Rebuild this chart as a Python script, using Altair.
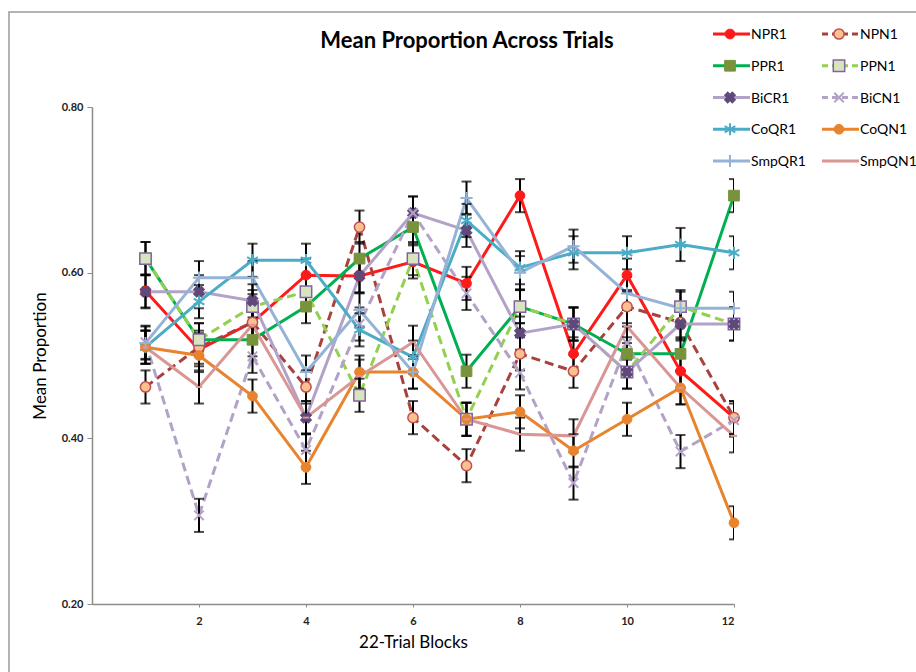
import altair as alt
import pandas as pd

# ---------------- data ----------------
blocks = [1, 2, 3, 4, 5, 6, 7, 8, 9, 10, 11, 12]
series_names = ["NPR1", "NPN1", "PPR1", "PPN1", "BiCR1",
                "BiCN1", "CoQR1", "CoQN1", "SmpQR1", "SmpQN1"]

NPR1 = [0.578, 0.507, 0.540, 0.597, 0.596, 0.613, 0.587, 0.693, 0.502, 0.597, 0.481, 0.425]
NPN1 = [0.462, 0.510, 0.540, 0.462, 0.655, 0.425, 0.367, 0.502, 0.481, 0.559, 0.540, 0.425]
PPR1 = [0.617, 0.519, 0.519, 0.559, 0.617, 0.655, 0.481, 0.559, 0.538, 0.502, 0.502, 0.693]
PPN1 = [0.617, 0.519, 0.559, 0.577, 0.452, 0.617, 0.423, 0.559, 0.538, 0.480, 0.559, 0.538]
BiCR1 = [0.577, 0.577, 0.566, 0.425, 0.596, 0.672, 0.651, 0.527, 0.538, 0.480, 0.538, 0.538]
BiCN1 = [0.516, 0.307, 0.499, 0.386, 0.538, 0.672, 0.575, 0.479, 0.346, 0.515, 0.384, 0.422]
CoQR1 = [0.510, 0.565, 0.615, 0.615, 0.531, 0.498, 0.663, 0.606, 0.624, 0.624, 0.634, 0.624]
CoQN1 = [0.510, 0.500, 0.451, 0.365, 0.480, 0.480, 0.423, 0.432, 0.385, 0.423, 0.461, 0.298]
SmpQR1 = [0.515, 0.594, 0.594, 0.480, 0.555, 0.480, 0.690, 0.600, 0.632, 0.575, 0.557, 0.557]
SmpQN1 = [0.510, 0.462, 0.537, 0.425, 0.475, 0.516, 0.423, 0.405, 0.403, 0.535, 0.461, 0.403]

values = {"NPR1": NPR1, "NPN1": NPN1, "PPR1": PPR1, "PPN1": PPN1, "BiCR1": BiCR1,
          "BiCN1": BiCN1, "CoQR1": CoQR1, "CoQN1": CoQN1, "SmpQR1": SmpQR1, "SmpQN1": SmpQN1}
error = 0.02  # fixed error bar half-length

x_ticks = [2, 4, 6, 8, 10, 12]
y_ticks = [0.2, 0.4, 0.6, 0.8]
title_text = "Mean Proportion Across Trials"

# ---------------- styles ----------------
PLUS = "M-1,0L1,0M0,-1L0,1"
XMARK = "M-1,-1L1,1M-1,1L1,-1"
STAR = "M0,-1L0,1M-0.87,-0.5L0.87,0.5M-0.87,0.5L0.87,-0.5"
DASH = "M-1,0L1,0"

styles = {
    "NPR1":  dict(line="#FF1A1A", dash=[], shape="circle", fill="#FF1A1A", stroke="#FF1A1A", size=95, sw=1, filled=True),
    "NPN1":  dict(line="#A8423F", dash=[9, 5], shape="circle", fill="#FAC090", stroke="#C0504D", size=105, sw=1.5, filled=True),
    "PPR1":  dict(line="#00B050", dash=[], shape="square", fill="#77933C", stroke="#77933C", size=115, sw=1, filled=True),
    "PPN1":  dict(line="#92D050", dash=[9, 5], shape="square", fill="#D7E4BD", stroke="#8064A2", size=130, sw=1.5, filled=True),
    "BiCR1": dict(line="#B3A2C7", dash=[], shape="cross", fill="#5F497A", stroke="#5F497A", size=120, sw=1, filled=True, angle=45),
    "BiCN1": dict(line="#B3A2C7", dash=[9, 5], shape=XMARK, fill="none", stroke="#B3A2C7", size=90, sw=2, filled=False),
    "CoQR1": dict(line="#4BACC6", dash=[], shape=STAR, fill="none", stroke="#4BACC6", size=150, sw=2, filled=False),
    "CoQN1": dict(line="#E8832E", dash=[], shape="circle", fill="#E8832E", stroke="#E8832E", size=95, sw=1, filled=True),
    "SmpQR1": dict(line="#95B3D7", dash=[], shape=PLUS, fill="none", stroke="#95B3D7", size=150, sw=2, filled=False),
    "SmpQN1": dict(line="#D99694", dash=[], shape=DASH, fill="none", stroke="#D99694", size=40, sw=2, filled=False),
}

FONT = "Lato"

# ---------------- tables ----------------
rows = []
for name in series_names:
    for b, v in zip(blocks, values[name]):
        rows.append({"series": name, "block": b, "value": v,
                     "lo": v - error, "hi": v + error})
df = pd.DataFrame(rows)

x_enc = alt.X("block:Q", scale=alt.Scale(domain=[0, 12], nice=False, zero=False),
              axis=alt.Axis(values=x_ticks, title="22-Trial Blocks"))
y_axis = alt.Axis(values=y_ticks, format=".2f", title="Mean Proportion")
y_scale = alt.Scale(domain=[0.2, 0.8], nice=False, zero=False)

base = alt.Chart(df)

line_layers = []
point_layers = []
for name in series_names:
    s = styles[name]
    sub = base.transform_filter(alt.datum.series == name)
    lkw = dict(color=s["line"], strokeWidth=3)
    if s["dash"]:
        lkw["strokeDash"] = s["dash"]
    line_layers.append(sub.mark_line(**lkw).encode(
        x=x_enc, y=alt.Y("value:Q", scale=y_scale, axis=y_axis)))
    pkw = dict(shape=s["shape"], size=s["size"], stroke=s["stroke"],
               strokeWidth=s["sw"], filled=s["filled"], opacity=1)
    if s["filled"]:
        pkw["fill"] = s["fill"]
    if "angle" in s:
        pkw["angle"] = s["angle"]
    point_layers.append(sub.mark_point(**pkw).encode(
        x=x_enc, y=alt.Y("value:Q", scale=y_scale, axis=y_axis)))

err_rule = base.mark_rule(color="black", strokeWidth=2, clip=True).encode(
    x=x_enc, y=alt.Y("lo:Q", scale=y_scale, axis=y_axis), y2="hi:Q")
err_lo = base.mark_tick(color="black", orient="horizontal", size=10, thickness=2, clip=True).encode(
    x=x_enc, y=alt.Y("lo:Q", scale=y_scale, axis=y_axis))
err_hi = base.mark_tick(color="black", orient="horizontal", size=10, thickness=2, clip=True).encode(
    x=x_enc, y=alt.Y("hi:Q", scale=y_scale, axis=y_axis))

dummy = pd.DataFrame({"a": [0]})
frame = alt.Chart(dummy).mark_rect(
    fillOpacity=0, stroke="#9a9a9a", strokeWidth=1.5).encode(
    x=alt.value(-83), x2=alt.value(840), y=alt.value(-95), y2=alt.value(580))
title_mark = alt.Chart(dummy).mark_text(
    text=title_text, fontSize=22, fontWeight="bold", font=FONT, color="black",
    align="center", baseline="middle").encode(x=alt.value(375), y=alt.value(-66))

main = alt.layer(frame, title_mark, *line_layers, err_rule, err_lo, err_hi, *point_layers)

# ---------------- legend ----------------
leg_rows = [{"series": n, "col": i % 2, "row": i // 2} for i, n in enumerate(series_names)]
leg_df = pd.DataFrame(leg_rows)
lx = alt.X("col:Q", scale=alt.Scale(domain=[0, 1], range=[621, 730]), axis=None)
ly = alt.Y("row:Q", scale=alt.Scale(domain=[0, 4], range=[-73, 54]), axis=None)
leg_layers = []
for name in series_names:
    s = styles[name]
    sub = alt.Chart(leg_df).transform_filter(alt.datum.series == name)
    rkw = dict(color=s["line"], strokeWidth=3, x2Offset=37)
    if s["dash"]:
        rkw["strokeDash"] = [6, 4]
    leg_layers.append(sub.mark_rule(**rkw).encode(x=lx, x2="col:Q", y=ly))
    pkw = dict(shape=s["shape"], size=s["size"], stroke=s["stroke"],
               strokeWidth=s["sw"], filled=s["filled"], opacity=1, xOffset=17)
    if s["filled"]:
        pkw["fill"] = s["fill"]
    if "angle" in s:
        pkw["angle"] = s["angle"]
    leg_layers.append(sub.mark_point(**pkw).encode(x=lx, y=ly))
    leg_layers.append(sub.mark_text(align="left", baseline="middle", dx=38, dy=1,
                                    fontSize=14, font=FONT, color="black").encode(
        x=lx, y=ly, text="series:N"))
legend = alt.layer(*leg_layers)

chart = alt.layer(main, legend).resolve_scale(x="independent", y="independent").properties(
    width=642, height=497,
    autosize=alt.AutoSizeParams(type="none"),
    padding={"left": 92, "top": 107, "right": 182, "bottom": 68},
).configure_view(stroke=None).configure_axis(
    grid=False, domainColor="#8c8c8c", domainWidth=1.5, tickColor="#8c8c8c",
    labelFont=FONT, labelFontWeight="bold", labelFontSize=11, labelColor="#222",
    titleFont=FONT, titleFontWeight="normal", titleFontSize=17, titleColor="black",
).configure_axisY(tickSize=5, labelPadding=4, titlePadding=12
).configure_axisX(tickSize=3, labelPadding=8, titlePadding=8)

chart.save("out.html", embed_options={"renderer": "svg", "actions": False})
